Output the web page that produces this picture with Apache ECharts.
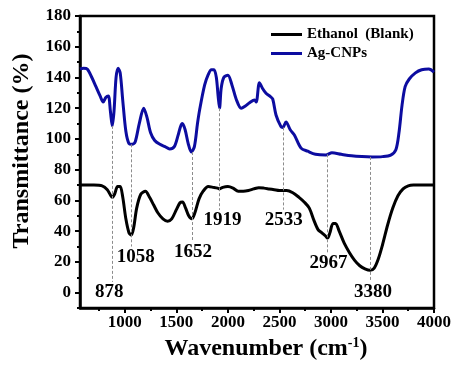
<!DOCTYPE html>
<html>
<head>
<meta charset="utf-8">
<script src="https://cdn.jsdelivr.net/npm/echarts@6/dist/echarts.min.js"></script>
<style>
  html, body { margin: 0; padding: 0; background: #fff; }
  #chart { width: 454px; height: 371px; }
</style>
</head>
<body>
<div id="chart"></div>
<script>
// Ethanol (Blank)
var ethWn = [565, 600, 700, 780, 830, 860, 878, 900, 930, 955, 980, 1010, 1040, 1062, 1085, 1115, 1155, 1200, 1240, 1280, 1320, 1370, 1415, 1455, 1500, 1535, 1560, 1590, 1620, 1650, 1680, 1720, 1760, 1810, 1860, 1900, 1919, 1950, 2000, 2050, 2100, 2150, 2200, 2250, 2300, 2350, 2400, 2450, 2500, 2533, 2570, 2630, 2690, 2740, 2790, 2835, 2875, 2910, 2945, 2967, 2990, 3020, 3045, 3080, 3130, 3180, 3230, 3280, 3330, 3380, 3420, 3460, 3500, 3550, 3600, 3650, 3700, 3750, 3800, 3900, 4000];
var ethT = [70, 70, 70, 69.5, 67, 63.5, 62, 64, 69, 69, 62, 48, 39, 37.5, 42, 55, 64, 66, 62, 57, 52, 48, 46.5, 48, 54, 58.5, 59, 55, 50, 48, 52, 61, 66, 69, 68.5, 68, 67.5, 68.5, 69, 68, 66, 66, 66.5, 67.5, 68.3, 68, 67.5, 67, 66.5, 66.5, 66.5, 65, 62, 59, 55, 47, 41, 39, 37, 35.5, 39, 45, 45, 40, 32, 26, 21, 17.5, 15.5, 14.5, 16, 22, 31, 44, 55, 63, 67.5, 69.5, 70, 70, 70];

// Ag-CNPs
var agWn = [565, 600, 635, 680, 720, 760, 790, 815, 840, 860, 878, 895, 915, 935, 955, 980, 1010, 1040, 1070, 1100, 1140, 1183, 1215, 1250, 1290, 1340, 1390, 1435, 1480, 1515, 1540, 1558, 1585, 1615, 1645, 1675, 1705, 1726, 1774, 1810, 1840, 1865, 1888, 1905, 1919, 1935, 1960, 2000, 2040, 2080, 2129, 2170, 2210, 2258, 2275, 2306, 2335, 2370, 2413, 2435, 2467, 2515, 2533, 2564, 2605, 2645, 2710, 2774, 2850, 2950, 3010, 3100, 3200, 3300, 3400, 3500, 3580, 3630, 3660, 3690, 3720, 3760, 3820, 3880, 3950, 4000];
var agT = [145.5, 146, 145.5, 140, 134, 128, 124, 127, 128, 118, 108.5, 118, 140, 146, 143, 125, 105, 97, 96.5, 98, 110, 120, 114, 104, 99, 96.5, 95, 93.5, 95, 102, 108, 110, 106, 97, 91.5, 95, 110, 119, 135, 142, 145, 145, 140, 128, 120, 133, 140, 141.5, 135, 126, 120, 121.5, 123.6, 125.4, 124, 136.6, 133, 129.7, 127.5, 126, 115.6, 108, 107.5, 111, 106, 102.6, 94, 92, 90, 89.5, 91, 90, 89, 88.5, 88.3, 88.5, 89.5, 93, 104, 122, 134, 139, 143, 145, 145.5, 143.5];

// marked peaks: dashed line runs from topT down to bottomT, label under it
var peakWn = [878, 1058, 1652, 1919, 2533, 2967, 3380];
var peakTopT = [108.5, 96.5, 91.5, 120, 107.5, 90, 88.3];
var peakBottomT = [7, 30, 33, 53.8, 54, 26, 7];

// axis ticks
var xMajor = [1000, 1500, 2000, 2500, 3000, 3500, 4000];
var xMinor = [750, 1250, 1750, 2250, 2750, 3250, 3750];
var yMajor = [0, 20, 40, 60, 80, 100, 120, 140, 160, 180];
var yMinor = [-10, 10, 30, 50, 70, 90, 110, 130, 150, 170];

function pairs(xs, ys) {
    var out = [];
    for (var i = 0; i < xs.length; i++) {
        out.push([xs[i], ys[i]]);
    }
    return out;
}

var FONT = '"Liberation Serif", "Times New Roman", serif';

var peakLines = [];
for (var i = 0; i < peakWn.length; i++) {
    peakLines.push([{ coord: [peakWn[i], peakTopT[i]] }, { coord: [peakWn[i], peakBottomT[i]] }]);
}
// small sideways nudges of the peak labels (px)
var labelDx = [-3, 5, 1, 3, 1, 1, 3];

var chart = echarts.init(document.getElementById('chart'));
var axisText = { color: '#000', fontFamily: FONT, fontWeight: 'bold', fontSize: 17 };
var plain = function (v) { return String(v); };

chart.setOption({
    animation: false,
    backgroundColor: '#fff',
    grid: {
        left: 80, right: 19, top: 16, bottom: 63,
        show: true, borderColor: '#000', borderWidth: 2.5, backgroundColor: 'transparent'
    },
    legend: {
        data: ['Ethanol  (Blank)', 'Ag-CNPs'],
        orient: 'vertical',
        left: 266, top: 22,
        icon: 'rect',
        itemWidth: 31, itemHeight: 3,
        itemGap: 4,
        textStyle: { color: '#000', fontFamily: FONT, fontWeight: 'bold', fontSize: 15 }
    },
    xAxis: [{
        type: 'value', min: 565, max: 4000,
        name: '{a|Wavenumber (cm}{s|-1}{a|)}',
        nameLocation: 'middle', nameGap: 28,
        nameTextStyle: {
            padding: [0, 0, 0, 18],
            rich: {
                a: { fontFamily: FONT, fontWeight: 'bold', fontSize: 24, color: '#000', lineHeight: 26 },
                s: { fontFamily: FONT, fontWeight: 'bold', fontSize: 14, color: '#000', verticalAlign: 'top', lineHeight: 26 }
            }
        },
        axisLine: { onZero: false, lineStyle: { color: '#000', width: 2.5 } },
        axisTick: { customValues: xMajor, length: 5, lineStyle: { width: 2, color: '#000' } },
        axisLabel: Object.assign({ customValues: xMajor, margin: 6, formatter: plain }, axisText),
        splitLine: { show: false }
    }, {
        type: 'value', min: 565, max: 4000, position: 'bottom',
        axisLine: { show: false, onZero: false },
        axisTick: { customValues: xMinor, length: 3, lineStyle: { width: 2, color: '#000' } },
        axisLabel: { show: false },
        splitLine: { show: false }
    }],
    yAxis: [{
        type: 'value', min: -10, max: 180,
        name: 'Transmittance (%)',
        nameLocation: 'middle', nameGap: 46,
        nameTextStyle: { fontFamily: FONT, fontWeight: 'bold', fontSize: 24, color: '#000', padding: [0, 0, 0, 22] },
        axisLine: { show: true, onZero: false, lineStyle: { color: '#000', width: 2.5 } },
        axisTick: { show: true, customValues: yMajor, length: 5, lineStyle: { width: 2, color: '#000' } },
        axisLabel: Object.assign({ customValues: yMajor, margin: 9, formatter: plain }, axisText),
        splitLine: { show: false }
    }, {
        type: 'value', min: -10, max: 180, position: 'left',
        axisLine: { show: false, onZero: false },
        axisTick: { show: true, customValues: yMinor, length: 3, lineStyle: { width: 2, color: '#000' } },
        axisLabel: { show: false },
        splitLine: { show: false }
    }],
    series: [{
        name: 'Ethanol  (Blank)',
        type: 'line',
        data: pairs(ethWn, ethT),
        showSymbol: false, smooth: 0.3,
        color: '#000',
        lineStyle: { color: '#000', width: 3 },
        z: 3,
        markLine: {
            silent: true, symbol: 'none', animation: false,
            label: { show: false },
            lineStyle: { color: '#8c8c8c', width: 1, type: [3, 2] },
            data: peakLines
        }
    }, {
        name: 'Ag-CNPs',
        type: 'line',
        data: pairs(agWn, agT),
        showSymbol: false, smooth: 0.3,
        color: '#0c0ca0',
        lineStyle: { color: '#0c0ca0', width: 3 },
        z: 3
    }, {
        name: 'peaks',
        type: 'scatter',
        data: pairs(peakWn, peakBottomT),
        symbolSize: 0,
        silent: true,
        z: 5,
        itemStyle: { opacity: 0 },
        label: {
            show: true, position: 'bottom', distance: 1,
            formatter: function (p) { return String(p.value[0]); },
            color: '#000', opacity: 1, textBorderWidth: 0,
            fontFamily: FONT, fontWeight: 'bold', fontSize: 19
        },
        labelLayout: function (params) {
            return { dx: labelDx[params.dataIndex], hideOverlap: false };
        }
    }]
});
</script>
</body>
</html>
